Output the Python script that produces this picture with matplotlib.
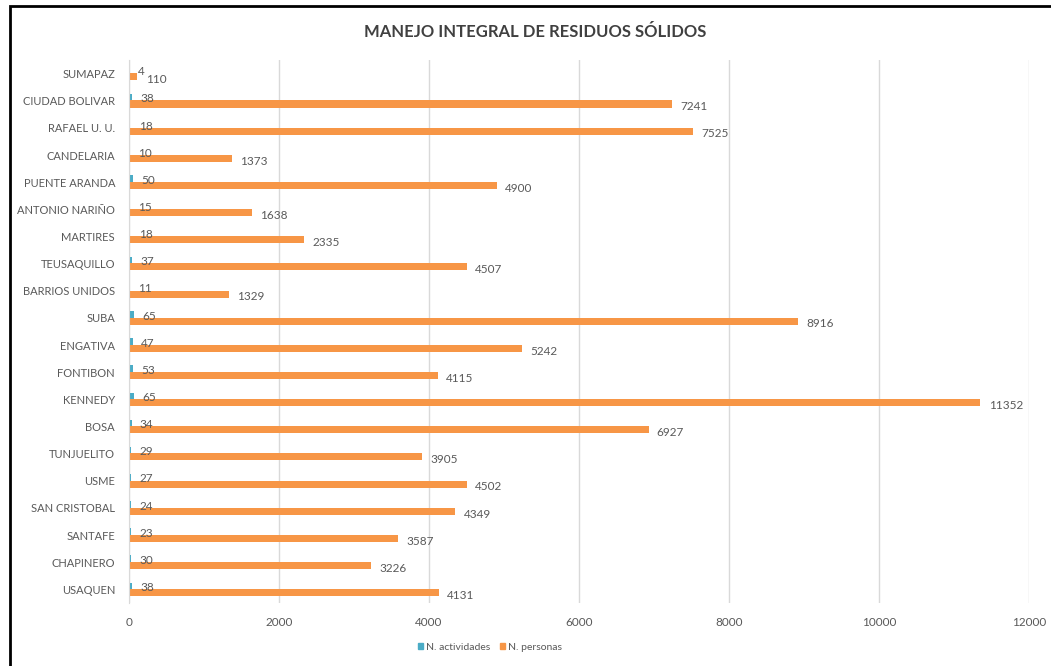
import numpy as np
import matplotlib
matplotlib.use("Agg")
from matplotlib import pyplot as plt, patches as mpatches

# Data (bottom to top)
localidades = [
    "USAQUEN", "CHAPINERO", "SANTAFE", "SAN CRISTOBAL", "USME", "TUNJUELITO",
    "BOSA", "KENNEDY", "FONTIBON", "ENGATIVA", "SUBA", "BARRIOS UNIDOS",
    "TEUSAQUILLO", "MARTIRES", "ANTONIO NARIÑO", "PUENTE ARANDA", "CANDELARIA",
    "RAFAEL U. U.", "CIUDAD BOLIVAR", "SUMAPAZ",
]
n_actividades = [38, 30, 23, 24, 27, 29, 34, 65, 53, 47, 65, 11, 37, 18, 15, 50, 10, 18, 38, 4]
n_personas = [4131, 3226, 3587, 4349, 4502, 3905, 6927, 11352, 4115, 5242, 8916, 1329,
              4507, 2335, 1638, 4900, 1373, 7525, 7241, 110]

plt.rcParams["font.family"] = ["Lato", "DejaVu Sans"]
text_color = "#595959"
blue = "#4BACC6"
orange = "#F79646"

fig = plt.figure(figsize=(10.51, 6.66), dpi=100)
ax = fig.add_axes([129 / 1051, 1 - 603 / 666, 900 / 1051, 543 / 666])

y = np.arange(len(localidades))
h = 0.26
b1 = ax.barh(y + 0.12, n_actividades, height=h, color=blue, label="N. actividades")
b2 = ax.barh(y - 0.12, n_personas, height=h, color=orange, label="N. personas")
# labels sit a little below the bar centre, like in Excel
for lbl in ax.bar_label(b1, padding=6, fontsize=8.5, color=text_color):
    lbl.set_y(-1)
for lbl in ax.bar_label(b2, padding=6, fontsize=8.5, color=text_color):
    lbl.set_y(-2)

ax.set_xlim(0, 12000)
ax.set_ylim(-0.5, len(localidades) - 0.5)
ax.set_xticks(range(0, 12001, 2000))
ax.set_yticks(y)
ax.set_yticklabels(localidades)
ax.tick_params(axis="both", length=0, labelsize=8.5, labelcolor=text_color)
ax.tick_params(axis="y", labelsize=8, pad=10)
ax.tick_params(axis="x", pad=10)

ax.grid(True, axis="x", color="#D9D9D9", linewidth=1)
ax.set_axisbelow(True)
for side in ["top", "right", "bottom"]:
    ax.spines[side].set_visible(False)
ax.spines["left"].set_color("#D9D9D9")

fig.text(535 / 1051, 1 - 32 / 666, "MANEJO INTEGRAL DE RESIDUOS SÓLIDOS",
         ha="center", va="center", fontsize=12, fontweight="bold", color="#404040")

handles = [mpatches.Patch(color=blue, label="N. actividades"),
           mpatches.Patch(color=orange, label="N. personas")]
fig.legend(handles=handles, loc="center", bbox_to_anchor=(490 / 1051, 1 - 647 / 666),
           ncol=2, frameon=False, fontsize=7.5, handlelength=0.5, handleheight=0.5,
           handletextpad=0.3, columnspacing=0.9, labelcolor=text_color)

# black frame around the chart (cut on right and bottom in the reference)
fig.patches.append(mpatches.Rectangle((9.5 / 1051, -0.1), 1.2, 1.1 - 6 / 666,
                                      transform=fig.transFigure, fill=False,
                                      edgecolor="black", linewidth=2))

fig.savefig("out.png", dpi=100)
